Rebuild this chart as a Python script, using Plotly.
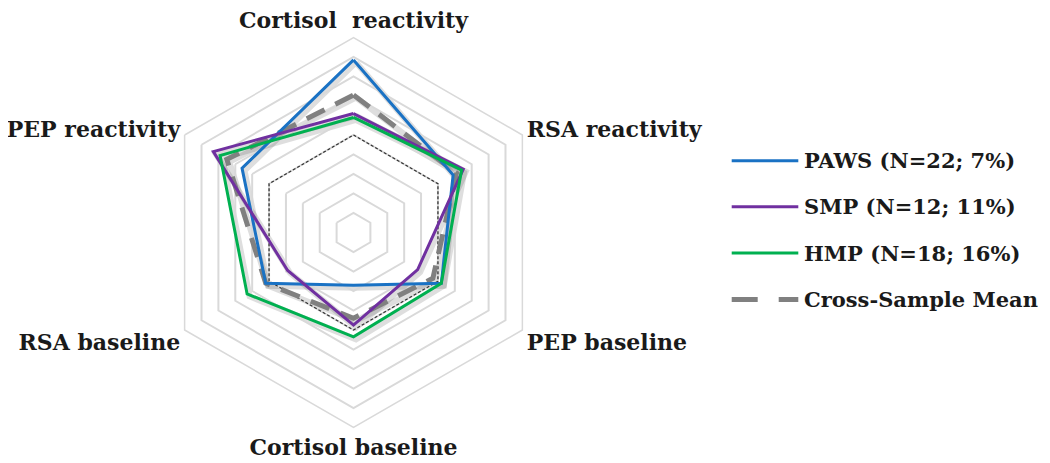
import plotly.graph_objects as go

# ---- data ----
categories = ["Cortisol\u00a0 reactivity", "RSA reactivity", "PEP baseline",
              "Cortisol baseline", "RSA baseline", "PEP reactivity"]
series_names = ["PAWS (N=22; 7%)", "SMP (N=12; 11%)", "HMP (N=18; 16%)", "Cross-Sample Mean"]
paws = [8.85, 5.9, 5.2, 2.7, 5.2, 6.6]
smp = [6.1, 6.5, 3.8, 4.75, 3.9, 8.3]
hmp = [5.9, 6.4, 5.2, 5.35, 6.3, 7.9]
mean_vals = [7.05, 6.1, 4.7, 4.4, 5.2, 7.5]
reference = [5, 5, 5, 5, 5, 5]
radial_range = [0, 10]

# ---- styles ----
PAGE_OFF = 8  # default body margin of the html page
W, H = 1050 - PAGE_OFF, 463 - PAGE_OFF
cx, cy, R = 353.5 - PAGE_OFF, 232.5 - PAGE_OFF, 195.0
colors = ["#1a72c4", "#7030a0", "#00b050", "#808080"]
widths = [3, 3, 3, 5]
dashes = ["solid", "solid", "solid", "20px,12px"]
FONT = dict(family="DejaVu Serif", size=22, color="#1a1a1a", weight="bold")
LEG_FONT = dict(family="DejaVu Serif", size=21, color="#1a1a1a", weight="bold")

def closed(v):
    return list(v) + [v[0]]

cats_closed = closed(categories)
all_series = [paws, smp, hmp, mean_vals]

fig = go.Figure()

# shadow layer (polar, drawn first, offset slightly down-right)
for vals in all_series:
    fig.add_trace(go.Scatterpolar(r=closed(vals), theta=cats_closed, mode="lines",
                                  line=dict(color="rgba(0,0,0,0.13)", width=6),
                                  showlegend=False, hoverinfo="skip", subplot="polar"))

# reference dashed hexagon
fig.add_trace(go.Scatterpolar(r=closed(reference), theta=cats_closed, mode="lines",
                              line=dict(color="#333333", width=1.3, dash="3px,2px"),
                              showlegend=False, subplot="polar2"))

draw_order = [3, 0, 1, 2]
for i in draw_order:
    fig.add_trace(go.Scatterpolar(r=closed(all_series[i]), theta=cats_closed, mode="lines",
                                  name=series_names[i],
                                  line=dict(color=colors[i], width=widths[i], dash=dashes[i]),
                                  showlegend=False, subplot="polar2"))

dom_x = [(cx - R) / W, (cx + R) / W]
dom_y = [1 - (cy + R) / H, 1 - (cy - R) / H]
off_x, off_y = 2.5 / W, 2.5 / H

common_radial = dict(range=radial_range, dtick=1, showticklabels=False, ticks="",
                     showline=False)
fig.update_layout(
    width=W, height=H, margin=dict(l=0, r=0, t=0, b=0),
    paper_bgcolor="white", plot_bgcolor="white", showlegend=False,
    polar=dict(
        domain=dict(x=[dom_x[0] + off_x, dom_x[1] + off_x], y=[dom_y[0] - off_y, dom_y[1] - off_y]),
        gridshape="linear", bgcolor="rgba(0,0,0,0)",
        radialaxis=dict(common_radial, showgrid=False, visible=False),
        angularaxis=dict(type="category", categoryarray=categories, direction="clockwise",
                         rotation=90, showgrid=False, showline=False, showticklabels=False,
                         ticks=""),
    ),
    polar2=dict(
        domain=dict(x=dom_x, y=dom_y),
        gridshape="linear", bgcolor="rgba(0,0,0,0)",
        radialaxis=dict(common_radial, showgrid=True, gridcolor="#d9d9d9", gridwidth=1.5),
        angularaxis=dict(type="category", categoryarray=categories, direction="clockwise",
                         rotation=90, showgrid=False, showline=True, linecolor="#d9d9d9",
                         linewidth=1.5, ticks="", tickfont=FONT),
    ),
)

# manual legend
leg_x0, leg_x1, leg_tx = 731.7 - PAGE_OFF, 798.3 - PAGE_OFF, 802 - PAGE_OFF
leg_y = [y - PAGE_OFF for y in [160.7, 206.7, 253.0, 299.5]]
for i, name in enumerate(series_names):
    yp = 1 - leg_y[i] / H
    fig.add_shape(type="line", xref="paper", yref="paper",
                  x0=leg_x0 / W, x1=leg_x1 / W, y0=yp, y1=yp,
                  line=dict(color=colors[i], width=widths[i] if i < 3 else 5,
                            dash=dashes[i] if i < 3 else "26px,21px"))
    fig.add_annotation(x=leg_tx / W, y=yp, xref="paper", yref="paper", text=name,
                       showarrow=False, xanchor="left", yanchor="middle", font=LEG_FONT)

fig.write_html("out.html")
